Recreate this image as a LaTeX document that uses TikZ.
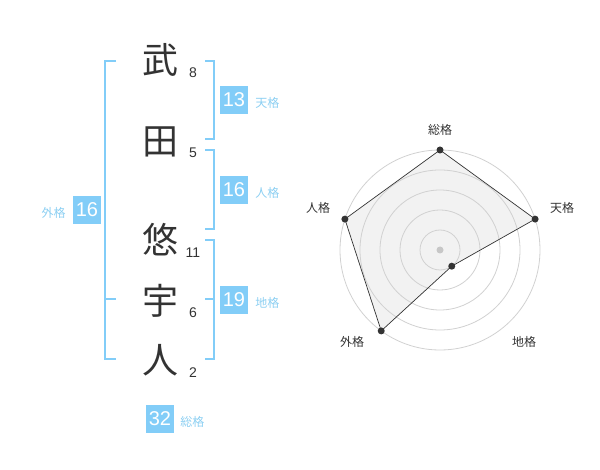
\documentclass[tikz,border=0pt]{standalone}
\usepackage{fontspec}
\setmainfont{Liberation Sans}
\newfontfamily\jp{Noto Sans CJK JP}
\usetikzlibrary{positioning}
\definecolor{kakublue}{HTML}{82CDF8}
\definecolor{kakutext}{HTML}{8CCFF2}
\definecolor{ink}{HTML}{333333}
\tikzset{kanji/.style={text=ink,font=\jp\fontsize{36}{36}\selectfont,inner sep=0pt}}
\tikzset{stroke/.style={text=ink,font=\fontsize{14}{14}\selectfont,inner sep=0pt}}
\tikzset{kakubox/.style={fill=kakublue,text=white,font=\fontsize{20}{20}\selectfont,minimum width=28pt,minimum height=28pt,inner sep=0pt}}
\tikzset{kakulabel/.style={text=kakutext,font=\jp\fontsize{12}{12}\selectfont,inner sep=0pt,yshift=-3pt}}
\tikzset{bracket/.style={draw=kakublue,line width=2pt}}
\tikzset{ring/.style={draw=black!18,line width=0.8pt}}
\tikzset{dot/.style={circle,fill=ink,inner sep=0pt,minimum size=7pt}}
\tikzset{axis/.style={text=ink,font=\jp\fontsize{12}{12}\selectfont,inner sep=0pt}}
\begin{document}
\begin{tikzpicture}[x=1pt,y=-1pt]
    \useasboundingbox (0,0) rectangle (600,470);
    % name
    \node[kanji] (take) at (160,60) {武};
    \node[kanji] (ta) at (160,142) {田};
    \node[kanji] (yu) at (160,240) {悠};
    \node[kanji] (u) at (160,301) {宇};
    \node[kanji] (hito) at (160,360) {人};
    \node[stroke] (s1) at (193,73) {8};
    \node[stroke] (s2) at (193,153) {5};
    \node[stroke] (s3) at (193,253) {11};
    \node[stroke] (s4) at (193,313) {6};
    \node[stroke] (s5) at (193,373) {2};
    % brackets
    \draw[bracket] (205,61) -- (214,61) -- (214,139) -- (205,139);
    \draw[bracket] (205,150) -- (214,150) -- (214,229) -- (205,229);
    \draw[bracket] (205,240) -- (214,240) -- (214,359) -- (205,359);
    \draw[bracket] (205,299) -- (214,299);
    \draw[bracket] (116,61) -- (105,61) -- (105,359) -- (116,359);
    \draw[bracket] (105,299) -- (116,299);
    % kaku
    \node[kakubox] (ten) at (234,100) {13};
    \node[kakulabel,right=7pt of ten] {天格};
    \node[kakubox] (jin) at (234,190) {16};
    \node[kakulabel,right=7pt of jin] {人格};
    \node[kakubox] (chi) at (234,300) {19};
    \node[kakulabel,right=7pt of chi] {地格};
    \node[kakubox] (gai) at (87,210) {16};
    \node[kakulabel,left=7pt of gai] {外格};
    \node[kakubox] (so) at (160,419) {32};
    \node[kakulabel,right=6pt of so] {総格};
    % radar
    \begin{scope}[shift={(440,250)},y=1pt]
      \coordinate (c) at (0,0);
      \coordinate (pso) at (90:100);
      \coordinate (pten) at (18:100);
      \coordinate (pchi) at (-54:20);
      \coordinate (pgai) at (-126:100);
      \coordinate (pjin) at (162:100);
      \fill[black!5] (pso) -- (pten) -- (pchi) -- (pgai) -- (pjin) -- cycle;
      \foreach \r in {20,40,60,80,100}
        \draw[ring] (c) circle[radius=\r pt];
      \draw[ink,line width=0.7pt] (pso) -- (pten) -- (pchi) -- (pgai) -- (pjin) -- cycle;
      \node[circle,fill=black!22,inner sep=0pt,minimum size=7pt] at (c) {};
      \foreach \p in {pso,pten,pchi,pgai,pjin}
        \node[dot] at (\p) {};
      \node[axis] (lso) at (0,120) {総格};
      \node[axis] (lten) at (122,42) {天格};
      \node[axis] (ljin) at (-122,42) {人格};
      \node[axis] (lgai) at (-88,-92) {外格};
      \node[axis] (lchi) at (84,-92) {地格};
    \end{scope}
\end{tikzpicture}
\end{document}
